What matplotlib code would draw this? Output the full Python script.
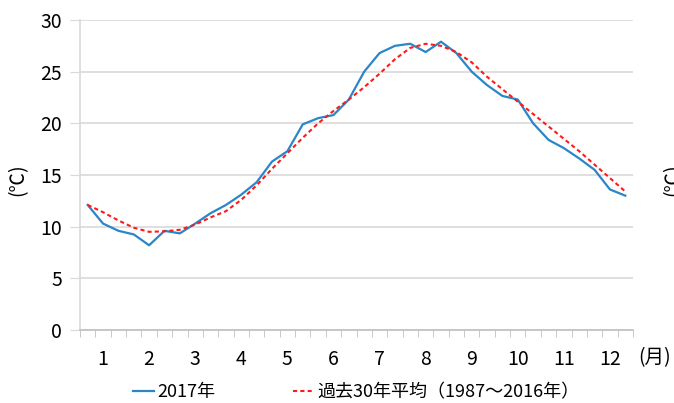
import numpy as np
import matplotlib
matplotlib.use('Agg')
import matplotlib.pyplot as plt

plt.rcParams['font.family'] = ['Noto Sans CJK JP', 'DejaVu Sans']

# 旬平均気温 (36 dekads)
temp_2017 = [12.1, 10.3, 9.6, 9.25, 8.2, 9.6, 9.35, 10.3, 11.3, 12.1, 13.1, 14.3,
             16.3, 17.3, 19.9, 20.5, 20.8, 22.3, 25.0, 26.8, 27.5, 27.7, 26.9, 27.9,
             26.8, 25.0, 23.7, 22.65, 22.3, 20.0, 18.4, 17.6, 16.6, 15.5, 13.6, 13.0]
temp_normal = [12.1, 11.4, 10.6, 9.9, 9.5, 9.55, 9.7, 10.2, 10.9, 11.5, 12.6, 14.0,
               15.6, 17.1, 18.6, 20.0, 21.2, 22.3, 23.5, 24.8, 26.2, 27.3, 27.7, 27.5,
               26.9, 25.9, 24.5, 23.3, 22.1, 20.9, 19.7, 18.5, 17.3, 16.0, 14.7, 13.4]
months = [str(m) for m in range(1, 13)]
label_2017 = '2017年'
label_normal = '過去30年平均（1987～2016年）'

W, H = 674, 403
fig = plt.figure(figsize=(W / 100, H / 100), dpi=100)
ax = fig.add_axes([80 / W, 1 - 330 / H, (633 - 80) / W, (330 - 20) / H])

x = np.arange(len(temp_2017))
ax.plot(x, temp_2017, color='#2a86c8', lw=1.6, label=label_2017)
ax.plot(x, temp_normal, color='#ff1a1a', lw=1.5, ls=(0, (2, 1.5)), label=label_normal)

ax.set_xlim(-0.5, len(x) - 0.5)
ax.set_ylim(0, 30)
ax.set_yticks(range(0, 31, 5))
ax.grid(axis='y', color='#d9d9d9', lw=1.2)
ax.set_axisbelow(True)

ax.set_xticks(np.arange(1, 36, 3))
ax.set_xticklabels(months)
ax.set_xticks(np.arange(-0.5, 36, 1), minor=True)
ax.tick_params(axis='x', which='major', length=0, pad=14, labelsize=14)
ax.tick_params(axis='x', which='minor', length=5, color='#bfbfbf', direction='out')
ax.tick_params(axis='y', length=7, color='#d9d9d9', labelsize=14, pad=6)

for s in ['top', 'right']:
    ax.spines[s].set_visible(False)
ax.spines['left'].set_color('#d9d9d9')
ax.spines['bottom'].set_color('#bfbfbf')
ax.spines['left'].set_linewidth(1.2)
ax.spines['bottom'].set_linewidth(1.2)

fig.text(18 / W, 1 - 180 / H, '(℃)', rotation=90, ha='center', va='center', fontsize=14)
# neighbouring chart's axis label, cut off at the right edge as in the source
fig.text(662 / W, 1 - 180 / H, '(℃)', rotation=90, ha='left', va='center', fontsize=14)
fig.text(655 / W, 1 - 358 / H, '(月)', ha='center', va='center', fontsize=14)

fig.legend(loc='center', bbox_to_anchor=(356 / W, 1 - 392 / H), ncol=2, frameon=False,
           fontsize=13, handlelength=1.15, handletextpad=0.2, columnspacing=4.3)

fig.savefig('out.png', dpi=100)
